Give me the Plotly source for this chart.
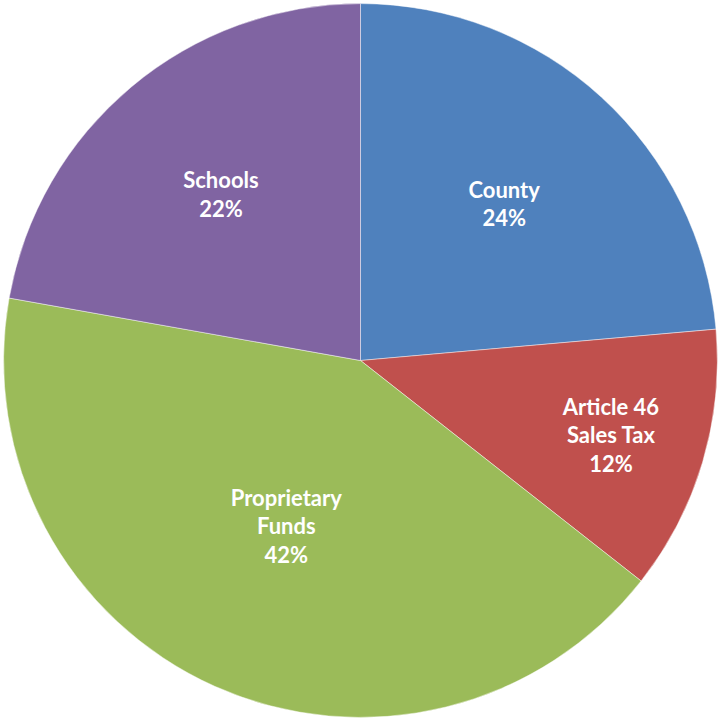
import plotly.graph_objects as go

labels = ["County", "Article 46<br>Sales Tax", "Proprietary<br>Funds", "Schools"]
values = [23.6, 12.0, 42.2, 22.2]
colors = ["#4F81BD", "#C0504D", "#9BBB59", "#8064A2"]

fig = go.Figure(go.Pie(
    labels=labels,
    values=values,
    sort=False,
    direction="clockwise",
    rotation=0,
    marker=dict(colors=colors, line=dict(color="rgba(255,255,255,0.45)", width=1)),
    texttemplate="<b>%{label}</b><br><b>%{percent:.0%}</b>",
    textposition="inside",
    insidetextorientation="horizontal",
    textfont=dict(family="Lato", size=22, color="white"),
    domain=dict(x=[0.005, 0.995], y=[0.005, 0.995]),
    showlegend=False,
    hoverinfo="label+percent",
))
fig.update_layout(
    width=721, height=721,
    margin=dict(l=0, r=0, t=0, b=0),
    paper_bgcolor="white",
    uniformtext=dict(minsize=22, mode="show"),
)
fig.write_html(
    "out.html",
    config={"displayModeBar": False},
    post_script="document.body.style.margin='0';document.body.style.padding='0';",
)
